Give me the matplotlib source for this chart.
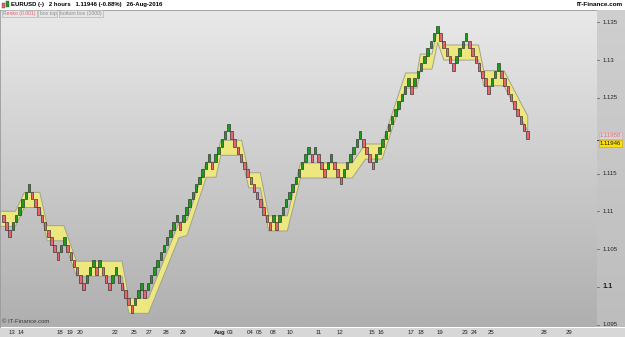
import numpy as np
import matplotlib.pyplot as plt
from matplotlib.colors import LinearSegmentedColormap
from matplotlib.patches import Rectangle
from matplotlib.transforms import blended_transform_factory

plt.rcParams['font.family'] = ['Liberation Sans', 'DejaVu Sans']

# renko bricks (box 0.001): run lengths, + = up brick, - = down brick
box = 0.001
prev_bottom = 1.10958
runs = [-3, 6, -9, 2, -6, 3, -1, 1, -3, 2, -5, 3, -1, 10, -1, 9, -1, 5,
        -13, 1, -1, 10, -1, 1, -3, 2, -3, 6, -4, 11, -1, 8, -5, 4, -7, 3, -9]

# "box top | bottom box" band, top edge vertices (brick index, price)
band_x = [-1.1, 3.6, 6.4, 11.2, 13.5, 18.7, 22.6, 36.8, 38.9, 45.0, 54.5, 57.0,
          63.0, 66.0, 67.5, 74.0, 76.2, 79.8, 82.4, 88.2, 92.3, 108.4, 112.5,
          117.7, 125.0, 128.6, 129.6, 133.2, 135.0, 136.9, 147.7, 149.3, 155.6, 163.0]
band_top = [1.11008, 1.11008, 1.11258, 1.11258, 1.10818, 1.10818, 1.10348, 1.10348,
            1.09858, 1.09858, 1.10858, 1.10888, 1.11658, 1.11658, 1.11948, 1.11948,
            1.11518, 1.11518, 1.10948, 1.10948, 1.11648, 1.11648, 1.11898, 1.11898,
            1.12838, 1.12838, 1.13088, 1.13088, 1.13438, 1.13208, 1.13208, 1.12868,
            1.12868, 1.12268]
band_height = 0.002

price_ticks = [1.095, 1.1, 1.105, 1.11, 1.115, 1.125, 1.13, 1.135]
price_labels = ['1.095', '1.1', '1.105', '1.11', '1.115', '1.125', '1.13', '1.135']
last_renko = 1.11958
last_price = 1.11946

date_pos = [2.8, 5.6, 17.7, 20.8, 23.9, 34.7, 40.6, 45.3, 50.6, 55.8, 67.4, 70.7,
            76.7, 79.6, 83.8, 89.2, 98.0, 104.8, 114.7, 117.6, 126.9, 129.8, 135.8,
            143.8, 146.6, 151.8, 168.3, 176.0]
date_labels = ['13', '14', '18', '19', '20', '22', '25', '27', '28', '29', 'Aug', '03',
               '04', '05', '08', '10', '11', '12', '15', '16', '17', '18', '19',
               '23', '24', '25', '28', '29']

W, H = 625, 337
def fx(px): return px / W
def fy(py): return 1 - py / H

fig = plt.figure(figsize=(6.25, 3.37), dpi=100)
fig.patch.set_facecolor('white')

xlim = (-1.03, 184.7)
ylim = (1.09464, 1.13664)

# main plot
ax = fig.add_axes([0, fy(327.5), fx(597), fy(10) - fy(327.5)])
bg = LinearSegmentedColormap.from_list('bg', ['#e9e9e9', '#afafaf'])
ax.imshow(np.linspace(0, 1, 256).reshape(-1, 1), cmap=bg, aspect='auto',
          extent=[xlim[0], xlim[1], ylim[0], ylim[1]], zorder=0)
ax.set_xlim(*xlim)
ax.set_ylim(*ylim)
ax.set_xticks([])
ax.set_yticks([])
for s in ax.spines.values():
    s.set_color('#9a9a9a')
    s.set_linewidth(0.6)

dirs = np.concatenate([np.repeat(np.sign(r), abs(r)) for r in runs])
bottoms = prev_bottom + np.cumsum(dirs) * box
idx = np.arange(len(dirs))
colors = np.where(dirs > 0, '#1c9c1c', '#e8646e')

bt = np.array(band_top)
ax.fill_between(band_x, bt, bt - band_height, facecolor='#ece77e',
                edgecolor='#a2a292', linewidth=0.7, zorder=2)
ax.bar(idx, box, bottom=bottoms, width=0.78, color=colors,
       edgecolor='#2b2b2b', linewidth=0.45, zorder=3)

ax.text(0.003, 0.01, '\u00a9 IT-Finance.com', transform=ax.transAxes,
        fontsize=4.3, color='#3a3a3a', va='bottom')

# legend tags, laid out one after another
fig.canvas.draw()
rend = fig.canvas.get_renderer()
tags = [('Renko (0.001)', '#e06272'), ('box top', '#8a8a8a'),
        ('bottom box (1000)', '#8a8a8a')]
xpos = 3
for txt, col in tags:
    t = fig.text(fx(xpos), fy(13.5), txt, fontsize=3.7, color=col, va='center',
                 bbox=dict(boxstyle='square,pad=0.2', fc='#e6e6e6', ec='#b4b4b4', lw=0.5))
    xpos = t.get_window_extent(rend).x1 + 4

# price panel
pax = fig.add_axes([fx(597), fy(327.5), fx(28), fy(10) - fy(327.5)])
pbg = LinearSegmentedColormap.from_list('pbg', ['#cfcfcf', '#bdbdbd'])
pax.imshow(np.linspace(0, 1, 256).reshape(-1, 1), cmap=pbg, aspect='auto',
           extent=[0, 1, ylim[0], ylim[1]], zorder=0)
pax.set_xlim(0, 1)
pax.set_ylim(*ylim)
pax.set_xticks([])
pax.set_yticks([])
for s in pax.spines.values():
    s.set_visible(False)
tr = blended_transform_factory(pax.transAxes, pax.transData)
for t, lab in zip(price_ticks, price_labels):
    pax.plot([0, 0.08], [t, t], color='#555555', lw=0.5, transform=tr)
    bold = lab == '1.1'
    pax.text(0.2, t, lab, transform=tr, fontsize=5.2 if bold else 4.3,
             fontweight='bold' if bold else 'normal', va='center', color='#222222')
pax.plot([0, 0.1], [last_price, last_price], color='#333333', lw=0.6, transform=tr)
pax.text(0.1, last_renko + 0.00045, '%.5f' % last_renko, transform=tr, fontsize=4.3,
         color='#e07080', va='center',
         bbox=dict(boxstyle='square,pad=0.15', fc='#d4d4d4', ec='#e3a0a8', lw=0.4))
pax.text(0.1, last_price - 0.00045, '%.5f' % last_price, transform=tr, fontsize=4.3,
         color='#1a1a1a', va='center',
         bbox=dict(boxstyle='square,pad=0.15', fc='#ffe000', ec='#c8a800', lw=0.4))

# date row
dax = fig.add_axes([0, 0, 1, fy(327.5)])
dax.set_facecolor('#d7d7d7')
dax.set_xlim(xlim[0], xlim[0] + (xlim[1] - xlim[0]) * 625 / 597)
dax.set_ylim(0, 1)
dax.set_xticks([])
dax.set_yticks([])
for s in dax.spines.values():
    s.set_visible(False)
for p, lab in zip(date_pos, date_labels):
    dax.text(p, 0.45, lab, ha='center', va='center', fontsize=4.3, color='#222222',
             fontweight='bold' if lab == 'Aug' else 'normal')

# header
fig.text(fx(11), fy(4.8), 'EURUSD (-)   2 hours   1.11946 (-0.88%)   26-Aug-2016',
         fontsize=4.3, fontweight='bold', va='center')
fig.text(fx(623), fy(4.8), 'IT-Finance.com', fontsize=4.6, fontweight='bold',
         va='center', ha='right')
fig.patches.append(Rectangle((fx(2), fy(8)), fx(3), 5 / H, transform=fig.transFigure,
                             fc='#e8646e', ec='#444444', lw=0.3))
fig.patches.append(Rectangle((fx(6), fy(7)), fx(3), 6 / H, transform=fig.transFigure,
                             fc='#1c9c1c', ec='#444444', lw=0.3))

fig.savefig('out.png', dpi=100)
